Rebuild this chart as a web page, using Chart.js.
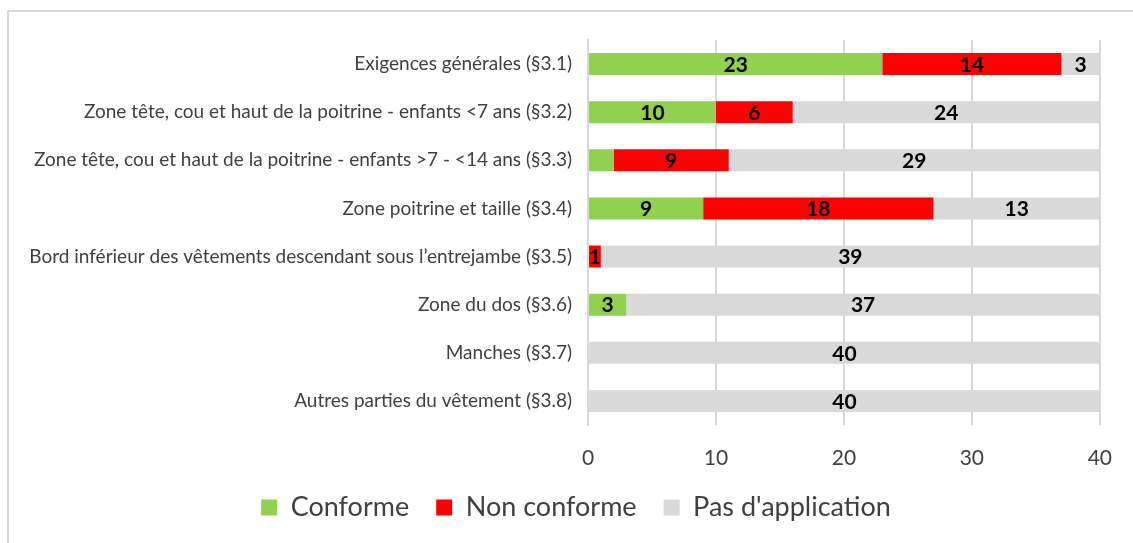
<!DOCTYPE html>
<html>
<head>
<meta charset="utf-8">
<script src="https://cdn.jsdelivr.net/npm/chart.js@4.4.1/dist/chart.umd.min.js"></script>
<style>
    html, body { margin: 0; padding: 0; background: #fff; overflow: hidden; }
    .frame {
        position: absolute; left: 7px; top: 10px;
        width: 1200px; height: 600px;
        border: 2px solid #d9d9d9;
    }
    .chart-box { position: absolute; left: 0; top: 0; width: 1133px; height: 543px; }
</style>
</head>
<body>
<div class="frame"></div>
<div class="chart-box"><canvas id="complianceChart"></canvas></div>
<script>
// --- Data ---
const categories = [
    'Exigences générales (§3.1)',
    'Zone tête, cou et haut de la poitrine - enfants <7 ans (§3.2)',
    'Zone tête, cou et haut de la poitrine - enfants >7 - <14 ans (§3.3)',
    'Zone poitrine et taille (§3.4)',
    'Bord inférieur des vêtements descendant sous l\u2019entrejambe (§3.5)',
    'Zone du dos (§3.6)',
    'Manches (§3.7)',
    'Autres parties du vêtement (§3.8)'
];
const conforme = [23, 10, 2, 9, 0, 3, 0, 0];
const nonConforme = [14, 6, 9, 18, 1, 0, 0, 0];
const pasApplication = [3, 24, 29, 13, 39, 37, 40, 40];
const xTicks = [0, 10, 20, 30, 40];
// labels left out in the original ([dataset, row])
const hiddenLabels = [[0, 2]];

const FONT = 'Lato';
const TEXT = '#404040';

// draws the value in the middle of each bar segment
const segmentLabels = {
    id: 'segmentLabels',
    afterDatasetsDraw(chart) {
        const ctx = chart.ctx;
        ctx.save();
        ctx.font = 'bold 21px ' + FONT;
        ctx.fillStyle = '#000';
        ctx.textAlign = 'center';
        ctx.textBaseline = 'middle';
        chart.data.datasets.forEach((ds, di) => {
            chart.getDatasetMeta(di).data.forEach((bar, i) => {
                const v = ds.data[i];
                if (!v) return;
                if (hiddenLabels.some(h => h[0] === di && h[1] === i)) return;
                const p = bar.getCenterPoint();
                ctx.fillText(String(v), p.x, p.y + 1);
            });
        });
        ctx.restore();
    }
};

// the legend sits a little right of centre in the original
const legendShift = {
    id: 'legendShift',
    afterLayout(chart) {
        chart.legend.left += 16;
        chart.legend.right += 16;
    }
};

new Chart(document.getElementById('complianceChart'), {
    type: 'bar',
    data: {
        labels: categories,
        datasets: [
            { label: 'Conforme', data: conforme, backgroundColor: '#92d050' },
            { label: 'Non conforme', data: nonConforme, backgroundColor: '#ff0000' },
            { label: "Pas d'application", data: pasApplication, backgroundColor: '#d9d9d9' }
        ]
    },
    options: {
        indexAxis: 'y',
        responsive: true,
        maintainAspectRatio: false,
        animation: false,
        layout: { padding: { top: 40, right: 33, bottom: 12, left: 20 } },
        datasets: {
            bar: { barPercentage: 0.455, categoryPercentage: 1.0, borderWidth: 0 }
        },
        scales: {
            x: {
                stacked: true,
                min: 0,
                max: 40,
                afterBuildTicks: scale => { scale.ticks = xTicks.map(v => ({ value: v })); },
                afterFit: scale => { scale.height = 42; },
                grid: { color: '#d9d9d9', lineWidth: 2, drawTicks: false },
                border: { display: false },
                ticks: { padding: 21, color: TEXT, font: { family: FONT, size: 21 } }
            },
            y: {
                stacked: true,
                afterFit: scale => { scale.width = 568; },
                grid: { display: false, drawTicks: false },
                border: { display: true, color: '#d9d9d9', width: 2 },
                ticks: { padding: 16, color: TEXT, font: { family: FONT, size: 19 } }
            }
        },
        plugins: {
            legend: {
                position: 'bottom',
                labels: {
                    boxWidth: 16,
                    boxHeight: 16,
                    padding: 27,
                    color: TEXT,
                    font: { family: FONT, size: 27 }
                }
            },
            tooltip: { enabled: false }
        }
    },
    plugins: [segmentLabels, legendShift]
});
</script>
</body>
</html>
